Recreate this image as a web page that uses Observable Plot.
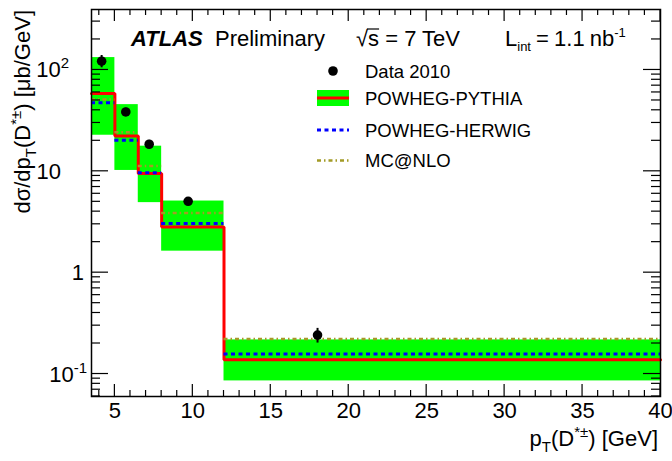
<!DOCTYPE html>
<html>
<head>
<meta charset="utf-8">
<script src="https://cdn.jsdelivr.net/npm/d3@7"></script>
<script src="https://cdn.jsdelivr.net/npm/@observablehq/plot@0.6"></script>
<style>
  body { margin: 0; background: #fff; }
  svg { display: block; }
</style>
</head>
<body>
<div id="chart"></div>
<script>
// D*± differential cross section in pT bins
const binLo = [3.5, 5, 6.5, 8, 12];
const binHi = [5, 6.5, 8, 12, 40];

// Data 2010: mean pT in bin, value and uncertainty [μb/GeV]
const dataPt = [4.15, 5.7, 7.2, 9.7, 18];
const dataVal = [122, 38.5, 18.5, 5.06, 0.242];
const dataErr = [17, 3.5, 1.7, 0.45, 0.04];

// POWHEG-PYTHIA central value and uncertainty band
const pythiaVal = [58.5, 22.3, 9.5, 2.82, 0.138];
const pythiaLo = [22.7, 10.2, 4.91, 1.63, 0.0855];
const pythiaHi = [132.5, 45.5, 17.7, 5.09, 0.217];

// POWHEG-HERWIG and MC@NLO predictions
const herwigVal = [47.6, 20.2, 9.7, 3.05, 0.158];
const mcnloVal = [51, 24.3, 11.3, 3.88, 0.221];

// axis tick labels
const xTickLabels = [5, 10, 15, 20, 25, 30, 35, 40];
const yTickValues = [100, 10, 1, 0.1];
const yTickBase = ["10", "10", "1", "10"];
const yTickExp = ["2", "", "", "-1"];

// layout
const W = 672, H = 461;
const mL = 91, mR = 12, mT = 9, mB = 65;
const FONT = "'Liberation Sans', Arial, Helvetica, sans-serif";
const GREEN = "#00ff00", RED = "#ff0000", BLUE = "#0000ff", OLIVE = "#a39b26";
const BLUE_DASH = "4,3.5", OLIVE_DASH = "4,3,1.5,3";

const idx = d3.range(binLo.length);
const steps = idx.flatMap(i => [{x: binLo[i], y: pythiaVal[i]}, {x: binHi[i], y: pythiaVal[i]}]);

const svg = Plot.plot({
  width: W, height: H,
  marginLeft: mL, marginRight: mR, marginTop: mT, marginBottom: mB,
  style: {fontFamily: FONT, fontSize: "22px", background: "white", color: "black"},
  x: {domain: [3.5, 40], axis: null},
  y: {type: "log", domain: [0.06, 395], axis: null},
  marks: [
    // POWHEG-PYTHIA uncertainty band
    Plot.rect(idx, {x1: i => binLo[i], x2: i => binHi[i], y1: i => pythiaLo[i], y2: i => pythiaHi[i], fill: GREEN}),
    // POWHEG-PYTHIA central histogram
    Plot.line(steps, {x: "x", y: "y", stroke: RED, strokeWidth: 3, strokeLinejoin: "miter"}),
    // POWHEG-HERWIG
    Plot.ruleY(idx, {y: i => herwigVal[i], x1: i => binLo[i], x2: i => binHi[i], stroke: BLUE, strokeWidth: 3, strokeDasharray: BLUE_DASH}),
    // MC@NLO
    Plot.ruleY(idx, {y: i => mcnloVal[i], x1: i => binLo[i], x2: i => binHi[i], stroke: OLIVE, strokeWidth: 2.5, strokeDasharray: OLIVE_DASH}),
    // data with error bars
    Plot.ruleX(idx, {x: i => dataPt[i], y1: i => dataVal[i] - dataErr[i], y2: i => dataVal[i] + dataErr[i], stroke: "black", strokeWidth: 2}),
    Plot.dot(idx, {x: i => dataPt[i], y: i => dataVal[i], r: 4.8, fill: "black", stroke: "none"}),
    // x tick labels
    Plot.text(xTickLabels, {x: d => d, frameAnchor: "bottom", dy: 21, text: d => String(d), fontSize: 22, fill: "black"}),
    Plot.frame({stroke: "black", strokeWidth: 1.5})
  ]
});

document.getElementById("chart").appendChild(svg);

const root = d3.select(svg);
const xScale = svg.scale("x");
const yScale = svg.scale("y");
const px = v => xScale.apply(v);
const py = v => yScale.apply(v);
const frameLeft = mL, frameRight = W - mR, frameTop = mT, frameBottom = H - mB;

// ROOT-style inward ticks on all four sides
const xMajor = d3.range(5, 41, 5);
const xMinor = d3.range(4, 40).filter(v => v % 5 !== 0);
const yMajor = [0.1, 1, 10, 100];
const yMinor = [0.01, 0.1, 1, 10, 100]
  .flatMap(dec => d3.range(2, 10).map(k => +(k * dec).toPrecision(3)))
  .filter(v => v >= 0.06 && v <= 395);

const tickGroup = root.append("g").attr("stroke", "black").attr("stroke-width", 1.2);
const seg = (x1, y1, x2, y2) => tickGroup.append("line").attr("x1", x1).attr("y1", y1).attr("x2", x2).attr("y2", y2);
xMajor.forEach(v => { seg(px(v), frameBottom, px(v), frameBottom - 12); seg(px(v), frameTop, px(v), frameTop + 12); });
xMinor.forEach(v => { seg(px(v), frameBottom, px(v), frameBottom - 6); seg(px(v), frameTop, px(v), frameTop + 6); });
yMajor.forEach(v => { seg(frameLeft, py(v), frameLeft + 17, py(v)); seg(frameRight, py(v), frameRight - 17, py(v)); });
yMinor.forEach(v => { seg(frameLeft, py(v), frameLeft + 9, py(v)); seg(frameRight, py(v), frameRight - 9, py(v)); });

const addText = (x, y, size, anchor = "start") => root.append("text")
  .attr("x", x).attr("y", y)
  .attr("text-anchor", anchor)
  .attr("font-family", FONT).attr("font-size", size)
  .attr("fill", "black").attr("stroke", "none");

// y tick labels with exponents
const yLabelRight = new Map([[100, 69], [10, 61], [1, 84], [0.1, 87]]);
yTickValues.forEach((v, i) => {
  const t = addText(yLabelRight.get(v), py(v) + 8, 22, "end");
  t.append("tspan").text(yTickBase[i]);
  if (yTickExp[i]) t.append("tspan").attr("font-size", 15).attr("dy", -9).text(yTickExp[i]);
});

// x axis title
{
  const t = addText(658, 446, 22, "end");
  t.append("tspan").text("p");
  t.append("tspan").attr("font-size", 15).attr("dy", 6).text("T");
  t.append("tspan").attr("dy", -6).text("(D");
  t.append("tspan").attr("font-size", 15).attr("dy", -9).text("*±");
  t.append("tspan").attr("dy", 9).text(") [GeV]");
}

// y axis title
{
  const t = addText(0, 0, 22, "end").attr("transform", "translate(30,10) rotate(-90)");
  t.append("tspan").text("dσ/dp");
  t.append("tspan").attr("font-size", 15).attr("dy", 6).text("T");
  t.append("tspan").attr("dy", -6).text("(D");
  t.append("tspan").attr("font-size", 15).attr("dy", -9).text("*±");
  t.append("tspan").attr("dy", 9).text(") [μb/GeV]");
}

// header line
{
  const base = 46;
  addText(131, base, 22).attr("font-weight", "bold").attr("font-style", "italic").text("ATLAS");
  addText(215, base, 22).text("Preliminary");

  const s = addText(356, base, 22);
  s.append("tspan").text("√");
  s.append("tspan").text("s");
  s.append("tspan").text(" = 7 TeV");
  const node = s.node();
  const radW = node.getSubStringLength(0, 1);
  const sW = node.getSubStringLength(1, 1);
  root.append("line")
    .attr("x1", 356 + radW - 1).attr("x2", 356 + radW + sW)
    .attr("y1", base - 17).attr("y2", base - 17)
    .attr("stroke", "black").attr("stroke-width", 1.2);

  const L = addText(505, base, 22).attr("word-spacing", -1);
  L.append("tspan").text("L");
  L.append("tspan").attr("font-size", 13).attr("dy", 5).text("int");
  L.append("tspan").attr("dy", -5).text(" = 1.1 nb");
  L.append("tspan").attr("font-size", 13).attr("dy", -9).text("-1");
}

// legend
{
  const lx = 317, lw = 32, tx = 365, fs = 18.5;
  const rows = [71, 98, 130, 160.5];
  const label = (y, s) => addText(tx, y + 6.6, fs).text(s);

  root.append("circle").attr("cx", lx + lw / 2).attr("cy", rows[0]).attr("r", 4.8).attr("fill", "black");
  label(rows[0], "Data 2010");

  root.append("rect").attr("x", lx).attr("y", rows[1] - 8).attr("width", lw).attr("height", 16).attr("fill", GREEN);
  root.append("line").attr("x1", lx).attr("x2", lx + lw).attr("y1", rows[1]).attr("y2", rows[1])
    .attr("stroke", RED).attr("stroke-width", 3);
  label(rows[1], "POWHEG-PYTHIA");

  root.append("line").attr("x1", lx).attr("x2", lx + lw).attr("y1", rows[2]).attr("y2", rows[2])
    .attr("stroke", BLUE).attr("stroke-width", 3).attr("stroke-dasharray", BLUE_DASH);
  label(rows[2], "POWHEG-HERWIG");

  root.append("line").attr("x1", lx).attr("x2", lx + lw).attr("y1", rows[3]).attr("y2", rows[3])
    .attr("stroke", OLIVE).attr("stroke-width", 2.5).attr("stroke-dasharray", OLIVE_DASH);
  label(rows[3], "MC@NLO");
}
</script>
</body>
</html>
